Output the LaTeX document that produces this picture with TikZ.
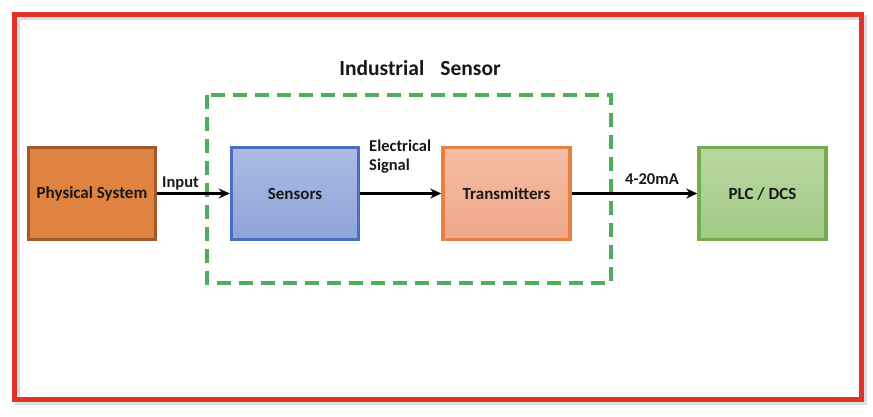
\documentclass[tikz,border=0pt]{standalone}
\usepackage{fontspec}
\setmainfont{Carlito}
\usetikzlibrary{arrows.meta,shadows}
\definecolor{framered}{HTML}{E0342B}
\definecolor{dashgreen}{HTML}{4EAE5B}
\definecolor{psfill}{HTML}{E08240}
\definecolor{psdraw}{HTML}{A0592A}
\definecolor{sfilltop}{HTML}{ABBBE3}
\definecolor{sfillbot}{HTML}{8EA4DA}
\definecolor{sdraw}{HTML}{4A6FC0}
\definecolor{tfilltop}{HTML}{F4BDA3}
\definecolor{tfillbot}{HTML}{EFA788}
\definecolor{tdraw}{HTML}{E8803F}
\definecolor{pfilltop}{HTML}{B8D7A2}
\definecolor{pfillbot}{HTML}{A2CA85}
\definecolor{pdraw}{HTML}{75AC4E}
\tikzset{
  blockbox/.style={minimum width=127pt, minimum height=92pt, line width=3.5pt, font=\bfseries\fontsize{17}{20}\selectfont, inner sep=0pt, text=black!90},
  conn/.style={line width=3pt, -{Stealth[length=11pt,width=10pt]}},
  lbl/.style={font=\bfseries\fontsize{16.5}{20}\selectfont, inner sep=0pt, align=left, text=black!90}
}
\begin{document}
\begin{tikzpicture}[x=1pt,y=-1pt]
\useasboundingbox (0,0) rectangle (873,417);
\fill[white] (0,0) rectangle (873,417);
% frame with shadow
\draw[line width=5pt, black!25, opacity=0.5] (17.5,17.5) rectangle (864.5,402.5);
\draw[line width=5pt, framered] (14.5,14.5) rectangle (861.5,399.5);
% title
\node[font=\bfseries\fontsize{21.5}{24}\selectfont, anchor=base, text=black!90] (title) at (420,76) {Industrial\hspace{0.75em}Sensor};
% dashed group
\draw[line width=4pt, dashgreen, dash pattern=on 14pt off 8pt] (207,95) rectangle (611,283);
% blocks
\node[blockbox, draw=psdraw, fill=psfill] (ps) at (92,193.5) {Physical System};
\node[blockbox, draw=sdraw, top color=sfilltop, bottom color=sfillbot] (sen) at (295,193.5) {Sensors};
\node[blockbox, draw=tdraw, top color=tfilltop, bottom color=tfillbot] (tx) at (506.5,193.5) {Transmitters};
\node[blockbox, draw=pdraw, top color=pfilltop, bottom color=pfillbot] (plc) at (762.5,193.5) {PLC / DCS};
% connectors
\draw[conn] (ps.east) -- (sen.west);
\draw[conn] (sen.east) -- (tx.west);
\draw[conn] (tx.east) -- (plc.west);
% labels
\node[lbl, anchor=base west] (lin) at (162,187) {Input};
\node[lbl, anchor=base west] (lel) at (369,171) {Electrical\\[-1pt]Signal};
\node[lbl, anchor=base west] (lma) at (625,185) {4-20mA};
\end{tikzpicture}
\end{document}
